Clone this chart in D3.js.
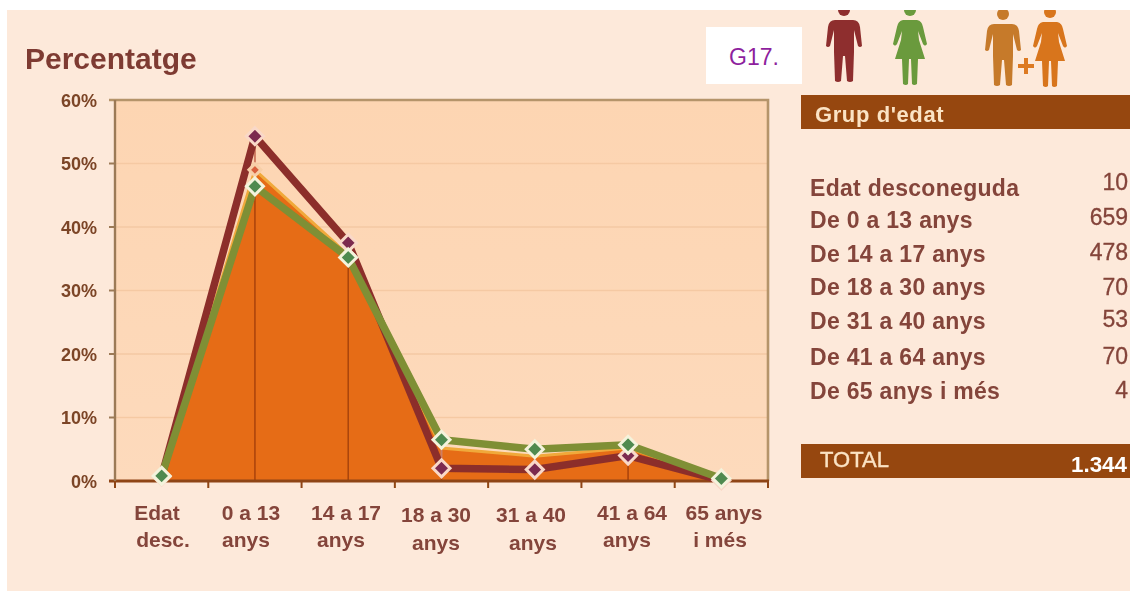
<!DOCTYPE html>
<html><head><meta charset="utf-8">
<script src="https://cdnjs.cloudflare.com/ajax/libs/d3/7.8.5/d3.min.js"></script>
<style>
html,body{margin:0;padding:0;background:#fff}
svg{display:block}
text{font-family:"Liberation Sans",Arial,sans-serif}
</style></head><body>
<svg id="c" width="1130" height="591"></svg>
<script>
const categories=[["Edat","desc."],["0 a 13","anys"],["14 a 17","anys"],["18 a 30","anys"],["31 a 40","anys"],["41 a 64","anys"],["65 anys","i més"]];
const catKeys=["desc","0-13","14-17","18-30","31-40","41-64","65+"];
const homes=[0.7,54.3,37.5,2.0,1.8,4.0,0.1];
const dones=[0.8,46.4,35.2,6.5,5.0,5.7,0.4];
const total=[0.7,49.0,35.6,5.2,3.9,5.2,0.3];
const yTicks=[0,10,20,30,40,50,60];
const tableLabels=["Edat desconeguda","De 0 a 13 anys","De 14 a 17 anys","De 18 a 30 anys","De 31 a 40 anys","De 41 a 64 anys","De 65 anys i més"];
const tableValues=["10","659","478","70","53","70","4"];
const totalLabel="TOTAL", totalValue="1.344";

const svg=d3.select("#c");
const defs=svg.append("defs");
const g=defs.append("linearGradient").attr("id","bg").attr("x1",0).attr("x2",0).attr("y1",0).attr("y2",1);
g.append("stop").attr("offset",0).attr("stop-color","#fdd5b2");
g.append("stop").attr("offset",1).attr("stop-color","#fddabc");
defs.append("filter").attr("id","soft").append("feGaussianBlur").attr("stdDeviation",0.7);
defs.append("filter").attr("id","softT").append("feGaussianBlur").attr("stdDeviation",0.4);
defs.append("clipPath").attr("id","top").append("rect").attr("x",0).attr("y",10).attr("width",1130).attr("height",581);

svg.append("rect").attr("x",7).attr("y",10).attr("width",1123).attr("height",581).attr("fill","#fde9da");

const x=d3.scaleBand().domain(catKeys).range([115,768]);
const y=d3.scaleLinear().domain([0,60]).range([481,100]);
const cx=k=>x(k)+x.bandwidth()/2;

svg.append("rect").attr("x",x.range()[0]).attr("y",y(60)).attr("width",653).attr("height",381).attr("fill","url(#bg)");
const soft=svg.append("g").attr("filter","url(#soft)");
soft.selectAll("line.grid").data(yTicks.filter(d=>d>0&&d<60)).join("line")
  .attr("x1",115).attr("x2",768).attr("y1",d=>y(d)).attr("y2",d=>y(d))
  .attr("stroke","#f5c9a3").attr("stroke-width",1.6);
soft.append("path").attr("d",`M109,${y(60)}H768V${y(0)}`).attr("fill","none").attr("stroke","#b5946b").attr("stroke-width",2.6);

// area and its drop lines
const area=d3.area().x((d,i)=>cx(catKeys[i])).y0(y(0)).y1(d=>y(d));
soft.append("path").datum(total).attr("d",area).attr("fill","#e66c15");
soft.selectAll("line.hl").data(catKeys).join("line")
  .attr("x1",k=>cx(k)).attr("x2",k=>cx(k))
  .attr("y1",(k,i)=>y(Math.max(homes[i],dones[i],total[i])))
  .attr("y2",(k,i)=>y(Math.min(homes[i],dones[i],total[i])))
  .attr("stroke","#cf7d63").attr("stroke-width",2);
soft.selectAll("line.drop").data(catKeys).join("line")
  .attr("x1",k=>cx(k)).attr("x2",k=>cx(k))
  .attr("y1",(k,i)=>y(Math.min(homes[i],dones[i],total[i])))
  .attr("y2",y(0)).attr("stroke","#a9430f").attr("stroke-width",1.5);

// axes
const axisX=soft.append("g").attr("transform",`translate(0,${y(0)})`);
axisX.append("line").attr("x1",109).attr("x2",769).attr("stroke","#8f4413").attr("stroke-width",3.2);
axisX.selectAll("line.t").data(d3.range(8)).join("line")
  .attr("x1",d=>115+d*x.step()).attr("x2",d=>115+d*x.step()).attr("y1",0).attr("y2",7).attr("stroke","#8f4413").attr("stroke-width",2);
soft.append("line").attr("x1",115).attr("x2",115).attr("y1",y(60)).attr("y2",y(0)).attr("stroke","#9c7a56").attr("stroke-width",2.4);
soft.selectAll("line.yt").data(yTicks.slice(1,6)).join("line")
  .attr("x1",109).attr("x2",115).attr("y1",d=>y(d)).attr("y2",d=>y(d)).attr("stroke","#9c7a56").attr("stroke-width",2);

// series lines
const line=d3.line().x((d,i)=>cx(catKeys[i])).y(d=>y(d));
soft.append("path").datum(total).attr("d",line).attr("fill","none").attr("stroke","#f0a93b").attr("stroke-width",3);
soft.append("path").datum(homes).attr("d",line).attr("fill","none").attr("stroke","#8c2f2c").attr("stroke-width",7.5);
soft.append("path").datum(dones).attr("d",line).attr("fill","none").attr("stroke","#7f8f35").attr("stroke-width",7.5);

const diamond=(sel,series,r,fill,stroke,only)=>{
  sel.selectAll(null).data(catKeys.filter((k,i)=>!only||only.includes(i))).join("path")
    .attr("d",k=>{const px=cx(k),py=y(series[catKeys.indexOf(k)]);return `M${px},${py-r}L${px+r},${py}L${px},${py+r}L${px-r},${py}Z`;})
    .attr("fill",fill).attr("stroke",stroke).attr("stroke-width",3);
};
diamond(soft.append("g"),total,6,"#d9613c","#f7cfa8",[1,2]);
diamond(soft.append("g"),homes,8.5,"#7c2a50","#f9d8c8");
diamond(soft.append("g"),dones,8.5,"#4f8a50","#f4f3dc");

// y labels
svg.append("g").selectAll("text").data(yTicks).join("text")
  .attr("x",97).attr("y",d=>y(d)+6.5).attr("text-anchor","end")
  .attr("font-size",18).attr("font-weight","bold").attr("fill","#7b4426").attr("filter","url(#softT)")
  .text(d=>d+"%");

// x labels
const xLabelCx=[[157,163],[251,246],[346,341],[436,436],[531,533],[632,627],[724,720]];
const xBase=[[520,547],[520,547],[520,547],[522,550],[522,550],[520,547],[520,547]];
const xl=svg.append("g").attr("filter","url(#softT)");
categories.forEach((c,i)=>{
  c.forEach((t,j)=>{
    xl.append("text").attr("x",xLabelCx[i][j]).attr("y",xBase[i][j]).attr("text-anchor","middle")
      .attr("font-size",21).attr("font-weight","bold").attr("fill","#84443a").text(t);
  });
});
svg.append("text").attr("x",25).attr("y",69).attr("font-size",30).attr("font-weight","bold").attr("fill","#7e3b33").attr("filter","url(#softT)").text("Percentatge");

// G17 box
svg.append("rect").attr("x",706).attr("y",27).attr("width",96).attr("height",57).attr("fill","#fff");
svg.append("text").attr("x",729).attr("y",65).attr("font-size",23).attr("fill","#8e1f9e").attr("font-family","Lato").style("font-feature-settings",'"onum"').text("G17.");

// icons
const icons=svg.append("g").attr("clip-path","url(#top)");
const man=(px,dy,col)=>{const g=icons.append("g").attr("transform",`translate(${px},${dy})`).attr("fill",col).attr("filter","url(#softT)");
  g.append("circle").attr("cx",0).attr("cy",10).attr("r",6);
  g.append("path").attr("d","M-9,20H9Q15,20 16,27L18,46Q16,48 14,46L10,30V52L9,81Q6,83 3,81L1,56H-1L-3,81Q-6,83 -9,81L-10,52V30L-14,46Q-16,48 -18,46L-16,27Q-15,20 -9,20Z");
};
const woman=(px,dy,col)=>{const g=icons.append("g").attr("transform",`translate(${px},${dy})`).attr("fill",col).attr("filter","url(#softT)");
  g.append("circle").attr("cx",0).attr("cy",10).attr("r",6);
  g.append("path").attr("d","M-7,20H7Q12,21 13,27L17,44Q15,47 13,44L8,31L9,40L15,59H8L7,84Q4,86 2,84L1,59H-1L-2,84Q-4,86 -7,84L-8,59H-15L-9,40L-8,31L-13,44Q-15,47 -17,44L-13,27Q-12,21 -7,20Z");
};
man(844,0,"#8e2f2f"); woman(910,0,"#6a9a3c"); man(1003,4,"#c67a2c"); woman(1050,2,"#d8741b");
svg.append("path").attr("d","M1024,58h4v6h6v4h-6v6h-4v-6h-6v-4h6z").attr("fill","#dd7a22");

// table
svg.append("rect").attr("x",801).attr("y",95).attr("width",329).attr("height",34).attr("fill","#96470f");
svg.append("text").attr("x",815).attr("y",122).attr("font-size",22).attr("font-weight","bold").attr("letter-spacing",0.6).attr("fill","#fbe3c4").attr("filter","url(#softT)").text("Grup d'edat");
const rowY=[196,228,262,295,329,365,399];
const valY=[190,225,260,295,327,364,398];
const tb=svg.append("g").attr("filter","url(#softT)");
tb.selectAll("text.l").data(tableLabels).join("text")
  .attr("x",810).attr("y",(d,i)=>rowY[i]).attr("font-size",23).attr("font-weight","bold").attr("letter-spacing",0.3).attr("fill","#84443a").text(d=>d);
tb.selectAll("text.v").data(tableValues).join("text")
  .attr("x",1128).attr("y",(d,i)=>valY[i]).attr("text-anchor","end").attr("font-size",23).attr("fill","#84443a").attr("stroke","#84443a").attr("stroke-width",0.3).text(d=>d);
svg.append("rect").attr("x",801).attr("y",444).attr("width",329).attr("height",34).attr("fill","#96470f");
svg.append("text").attr("x",820).attr("y",467).attr("font-size",22).attr("fill","#fbe3c4").attr("stroke","#fbe3c4").attr("stroke-width",0.4).attr("filter","url(#softT)").text(totalLabel);
svg.append("text").attr("x",1127).attr("y",472).attr("text-anchor","end").attr("font-size",22.4).attr("font-weight","bold").attr("fill","#fff").attr("filter","url(#softT)").text(totalValue);
</script>
</body></html>
